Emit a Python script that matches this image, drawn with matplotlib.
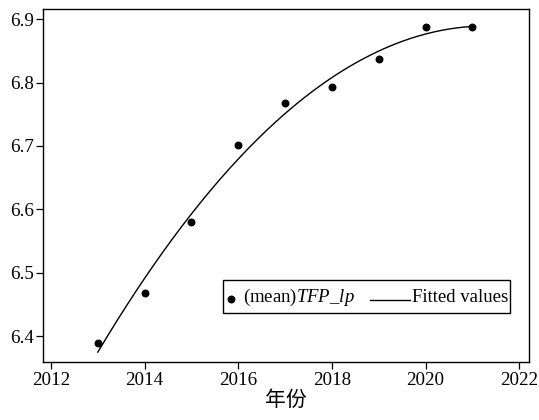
import numpy as np
import matplotlib
matplotlib.use('Agg')
from matplotlib import pyplot as plt
from matplotlib.lines import Line2D
from matplotlib.legend_handler import HandlerLine2D

plt.rcParams['font.family'] = ['Liberation Serif', 'Noto Sans CJK SC', 'DejaVu Sans']
plt.rcParams['mathtext.fontset'] = 'custom'
plt.rcParams['mathtext.rm'] = 'Liberation Serif'
plt.rcParams['mathtext.it'] = 'Liberation Serif:italic'

years = [2013, 2014, 2015, 2016, 2017, 2018, 2019, 2020, 2021]
tfp_mean = [6.389, 6.468, 6.580, 6.702, 6.768, 6.793, 6.837, 6.887, 6.887]
x_ticks = [2012, 2014, 2016, 2018, 2020, 2022]
y_ticks = [6.4, 6.5, 6.6, 6.7, 6.8, 6.9]


class LeftLongLine(HandlerLine2D):
    # stata style: line drawn right up against the label text
    def create_artists(self, legend, orig_handle, xdescent, ydescent,
                       width, height, fontsize, trans):
        y = (height - ydescent) / 2.0 - 5.5
        x1 = width - xdescent + legend.handletextpad * fontsize - 1.0
        x0 = x1 - 29.0
        ln = Line2D([x0, x1], [y, y])
        self.update_prop(ln, orig_handle, legend)
        ln.set_marker('')
        ln.set_transform(trans)
        return [ln]


fig = plt.figure(figsize=(5.39, 4.2), dpi=100)
ax = fig.add_axes([0.0798, 0.138, 0.9016, 0.8406])

# quadratic fit (qfit)
coef = np.polyfit(years, tfp_mean, 2)
xx = np.linspace(years[0], years[-1], 200)
yy = np.polyval(coef, xx)

pts = ax.scatter(years, tfp_mean, s=22, color='black', zorder=3, label='(mean)$\\mathit{TFP\\_lp}$')
fit, = ax.plot(xx, yy, color='black', linewidth=1.0, label='Fitted values')

ax.set_xlim(2011.83, 2022.21)
ax.set_ylim(6.359, 6.916)
ax.set_xticks(x_ticks)
ax.set_yticks(y_ticks)
ax.set_yticklabels(['%.1f' % v for v in y_ticks])
ax.tick_params(axis='both', direction='out', length=5, width=0.9, colors='black', labelsize=13.7)
ax.tick_params(axis='x', pad=2)
ax.tick_params(axis='y', pad=1.5)
for s in ax.spines.values():
    s.set_linewidth(1.0)
    s.set_color('black')

ax.set_xlabel('年份', fontsize=15, labelpad=2)

leg = ax.legend(handles=[pts, fit], ncol=2, fontsize=13.5,
                loc='lower left', bbox_to_anchor=(223 / 539, 1 - 313 / 420),
                bbox_transform=fig.transFigure, borderaxespad=0,
                handlelength=0.6, handletextpad=0.35, borderpad=0.1,
                handleheight=2.05, columnspacing=2.1, fancybox=False,
                framealpha=1, scatterpoints=1, scatteryoffsets=[0.12],
                handler_map={fit: LeftLongLine()})
leg.get_frame().set_edgecolor('black')
leg.get_frame().set_linewidth(1.0)

fig.savefig('out.png', dpi=100)
